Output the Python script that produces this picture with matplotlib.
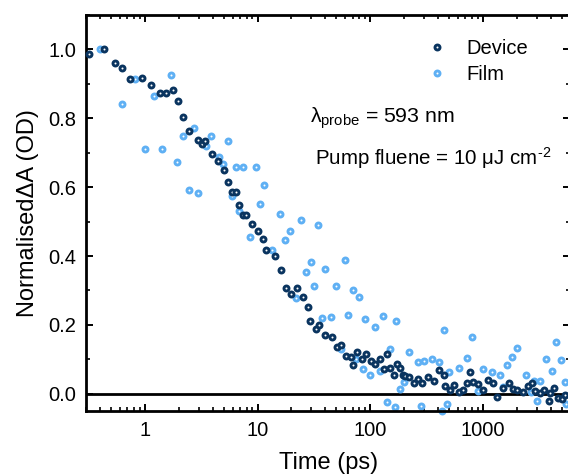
import numpy as np
import matplotlib
matplotlib.use('Agg')
import matplotlib.pyplot as plt
from matplotlib.ticker import FixedLocator, NullFormatter, MultipleLocator, LogLocator

plt.rcParams['font.family'] = ['Liberation Sans', 'DejaVu Sans']
plt.rcParams['mathtext.fontset'] = 'custom'
plt.rcParams['mathtext.rm'] = 'Liberation Sans'
plt.rcParams['mathtext.it'] = 'Liberation Sans'

# pump-probe delay (ps) and normalised dA, device
device_t = [0.32, 0.43, 0.54, 0.63, 0.73, 0.95, 1.14, 1.35, 1.54, 1.76, 1.95, 2.17,
            2.44, 2.95, 3.2, 3.43, 3.95, 4.44, 5.0, 5.5, 5.9, 6.5, 6.9, 7.4, 7.9,
            9.0, 10.0, 11.1, 12.0, 14.2, 16.2, 18.0, 20.0, 22.5, 25.2, 27.9, 29.5,
            33, 35, 39.5, 46, 51, 55.5, 61, 67, 71, 76, 84, 92, 101, 111, 121, 133,
            142, 151, 163, 174, 185, 196, 205, 223, 245, 263, 288, 325, 365, 405,
            450, 464, 514, 560, 610, 660, 720, 775, 820, 910, 1000, 1120, 1220,
            1330, 1520, 1700, 1850, 2030, 2290, 2500, 2750, 2920, 3220, 3500, 3850,
            3950, 4300, 4680, 5000, 5400]
device_dA = [0.988, 1.0, 0.96, 0.945, 0.915, 0.918, 0.898, 0.873, 0.873, 0.881, 0.849,
             0.805, 0.764, 0.738, 0.726, 0.734, 0.696, 0.676, 0.651, 0.616, 0.585,
             0.585, 0.547, 0.519, 0.519, 0.494, 0.473, 0.449, 0.418, 0.399, 0.359,
             0.308, 0.290, 0.306, 0.280, 0.252, 0.210, 0.187, 0.201, 0.172, 0.166,
             0.135, 0.142, 0.110, 0.108, 0.084, 0.120, 0.101, 0.115, 0.096, 0.087,
             0.100, 0.071, 0.115, 0.076, 0.055, 0.087, 0.076, 0.055, 0.052, 0.048,
             0.032, 0.044, 0.032, 0.048, 0.038, 0.069, 0.055, 0.023, 0.010, 0.026,
             0.005, 0.012, 0.032, 0.062, 0.033, 0.028, 0.012, 0.039, 0.030, -0.010,
             0.018, 0.030, 0.014, 0.011, 0.004, 0.023, 0.030, 0.007, 0.001, 0.011,
             -0.020, 0.001, 0.017, -0.011, -0.015, -0.003]

# film
film_t = [0.40, 0.62, 0.81, 1.0, 1.21, 1.41, 1.69, 1.91, 2.16, 2.46, 2.72, 2.95, 3.46,
          3.9, 4.53, 4.95, 5.45, 5.95, 6.45, 6.9, 7.4, 8.5, 9.6, 10.5, 11.5, 13.5,
          15.7, 17.6, 19.6, 21.9, 24.5, 27, 29.8, 32, 34.7, 37, 40, 45, 50, 55, 60,
          64, 70.5, 75, 80, 86, 90, 100, 111, 121, 131, 140, 150, 165, 171, 185,
          200, 220, 263, 285, 303, 355, 405, 430, 455, 480, 500, 610, 720, 800, 915,
          1000, 1200, 1420, 1500, 1630, 1800, 2030, 2420, 2660, 2860, 3000, 3220,
          3600, 4100, 4450, 4900, 5370, 5500]
film_dA = [1.0, 0.842, 0.915, 0.712, 0.866, 0.712, 0.927, 0.673, 0.750, 0.592, 0.773,
           0.582, 0.720, 0.750, 0.687, 0.667, 0.734, 0.575, 0.659, 0.531, 0.659, 0.454,
           0.659, 0.552, 0.606, 0.417, 0.521, 0.446, 0.473, 0.278, 0.504, 0.355, 0.383,
           0.313, 0.489, 0.219, 0.361, 0.224, 0.312, 0.130, 0.388, 0.229, 0.302, 0.101,
           0.282, 0.072, 0.218, 0.055, 0.193, 0.065, 0.227, -0.025, 0.130, -0.037,
           0.211, 0.015, 0.033, 0.120, 0.093, -0.035, 0.096, 0.100, 0.093, -0.05,
           0.184, -0.03, 0.062, 0.074, 0.105, 0.164, 0.007, 0.071, 0.062, 0.055, 0.020,
           0.084, 0.108, 0.133, 0.055, 0.004, 0.038, -0.022, 0.036, 0.101, 0.067, 0.150,
           0.098, 0.033, -0.030]

dev_color = '#0a345f'
film_color = '#5fb0f4'

fig = plt.figure(figsize=(5.68, 4.75), dpi=100)
ax = fig.add_axes([0.1514, 0.1347, 0.853, 0.8337])

ax.axhline(0, color='black', lw=2.0, zorder=1)
ax.plot(device_t, device_dA, 'o', ls='none', ms=3.6, mew=2.1, mec=dev_color,
        mfc='white', label='Device', clip_on=False, zorder=3)
ax.plot(film_t, film_dA, 'o', ls='none', ms=3.6, mew=2.1, mec=film_color,
        mfc='white', label='Film', clip_on=False, zorder=2)

ax.set_xscale('log')
ax.set_xlim(0.3, 6000)
ax.set_ylim(-0.05, 1.1)
ax.xaxis.set_major_locator(FixedLocator([1, 10, 100, 1000]))
ax.set_xticklabels(['1', '10', '100', '1000'])
ax.xaxis.set_minor_locator(LogLocator(base=10, subs=np.arange(2, 10), numticks=20))
ax.xaxis.set_minor_formatter(NullFormatter())
ax.set_yticks([0.0, 0.2, 0.4, 0.6, 0.8, 1.0])
ax.set_yticklabels(['0.0', '0.2', '0.4', '0.6', '0.8', '1.0'])
ax.yaxis.set_minor_locator(MultipleLocator(0.1))

for s in ax.spines.values():
    s.set_linewidth(2.0)
ax.tick_params(which='both', direction='in', top=True, right=True, labelsize=14.5)
ax.tick_params(which='major', length=5, width=1.4, pad=7)
ax.tick_params(which='minor', length=2.8, width=1.2)

ax.set_xlabel('Time (ps)', fontsize=17, labelpad=9)
ax.set_ylabel('Normalised\u0394A (OD)', fontsize=17, labelpad=7)

ax.legend(loc='upper left', bbox_to_anchor=(0.645, 0.985), frameon=False, fontsize=14.5,
          handletextpad=0.45, labelspacing=0.35, markerscale=1.0)

ax.text(0.462, 0.740, r'$\lambda_{\mathrm{probe}}$ = 593 nm', transform=ax.transAxes,
        fontsize=15.3, va='center')
ax.text(0.473, 0.639, 'Pump fluene = 10 \u03bcJ cm$^{\\mathrm{\u20102}}$', transform=ax.transAxes,
        fontsize=14.8, va='center')

fig.savefig('out.png', dpi=100)
